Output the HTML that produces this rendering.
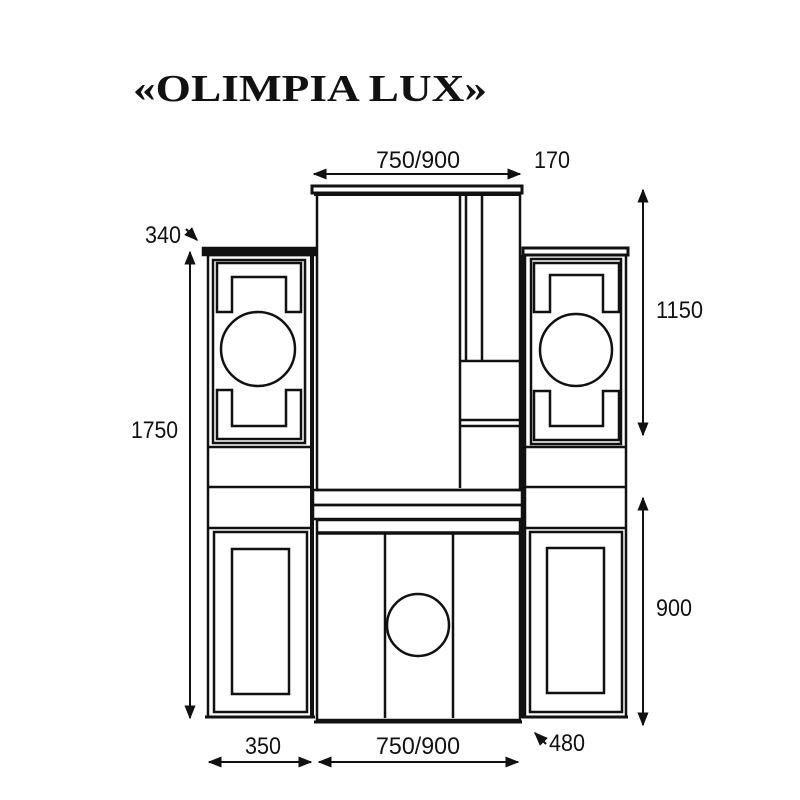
<!DOCTYPE html>
<html><head><meta charset="utf-8"><style>
html,body{margin:0;padding:0;background:#fff;}
svg{display:block}
text{font-family:"Liberation Sans",sans-serif;fill:#111}
</style></head><body>
<svg width="800" height="800" viewBox="0 0 800 800" xmlns="http://www.w3.org/2000/svg">
<defs>
<marker id="a" viewBox="0 0 10 10" refX="9" refY="5" markerWidth="7" markerHeight="7" orient="auto-start-reverse"><path d="M0,1 L10,5 L0,9 Z" fill="#111"/></marker>
</defs>
<text x="133" y="101" font-family="Liberation Serif" font-weight="bold" font-size="38" textLength="354" lengthAdjust="spacingAndGlyphs" style="font-family:'Liberation Serif',serif">«OLIMPIA LUX»</text>

<g stroke="#111" fill="none" stroke-width="2.5">
<!-- center top -->
<rect x="312" y="186" width="210" height="7" fill="#fff" stroke-width="3"/>
<line x1="314" y1="194" x2="520" y2="194" stroke-width="4"/>
<rect x="317" y="194" width="203" height="296"/>
<line x1="460" y1="196" x2="460" y2="488"/>
<line x1="466" y1="196" x2="466" y2="360"/>
<line x1="482" y1="196" x2="482" y2="360"/>
<line x1="460" y1="361" x2="519" y2="361"/>
<line x1="460" y1="420" x2="519" y2="420"/>
<line x1="460" y1="426" x2="519" y2="426"/>
<!-- counter -->
<rect x="313" y="490" width="209" height="15"/>
<rect x="313" y="505" width="209" height="14"/>
<rect x="317" y="520" width="203" height="200"/>
<line x1="318" y1="533" x2="520" y2="533" stroke-width="3.5"/>
<line x1="385" y1="533" x2="385" y2="718"/>
<line x1="453" y1="533" x2="453" y2="718"/>
<line x1="314" y1="722" x2="522" y2="722" stroke-width="3"/>
<circle cx="418" cy="625" r="31"/>

<!-- left tower -->
<rect x="203" y="248" width="112" height="7" fill="#111"/>
<rect x="208" y="255" width="104" height="462"/>
<line x1="312" y1="255" x2="312" y2="718" stroke-width="4"/>
<rect x="213" y="260" width="92" height="183"/>
<path d="M217,263 H301 V312 H286 V277 H232 V312 H217 Z"/>
<path d="M217,390 H232 V426 H286 V390 H301 V439 H217 Z"/>
<circle cx="258" cy="349" r="37"/>
<line x1="209" y1="447" x2="311" y2="447"/>
<line x1="209" y1="487" x2="311" y2="487"/>
<line x1="209" y1="528" x2="311" y2="528"/>
<rect x="214" y="532" width="93" height="180"/>
<rect x="232" y="549" width="57" height="145"/>
<line x1="205" y1="717" x2="315" y2="717" stroke-width="3"/>

<!-- right tower -->
<rect x="523" y="248" width="105" height="7" fill="#fff" stroke-width="3"/>
<rect x="525" y="255" width="101" height="462"/>
<line x1="523" y1="255" x2="523" y2="718" stroke-width="4"/>
<rect x="531" y="259" width="90" height="185"/>
<path d="M534,263 H619 V312 H603 V275 H550 V312 H534 Z"/>
<path d="M534,391 H550 V426 H603 V391 H619 V440 H534 Z"/>
<circle cx="576" cy="350" r="36"/>
<line x1="526" y1="447" x2="625" y2="447"/>
<line x1="526" y1="487" x2="625" y2="487"/>
<line x1="526" y1="528" x2="625" y2="528"/>
<rect x="530" y="532" width="92" height="180"/>
<rect x="547" y="548" width="57" height="145"/>
<line x1="522" y1="717" x2="628" y2="717" stroke-width="3"/>
</g>

<g stroke="#111" stroke-width="2" fill="none">
<line x1="314" y1="174" x2="520" y2="174" marker-start="url(#a)" marker-end="url(#a)"/>
<line x1="190" y1="252" x2="190" y2="718" marker-start="url(#a)" marker-end="url(#a)"/>
<line x1="643" y1="190" x2="643" y2="435" marker-start="url(#a)" marker-end="url(#a)"/>
<line x1="643" y1="498" x2="643" y2="725" marker-start="url(#a)" marker-end="url(#a)"/>
<line x1="209" y1="762" x2="311" y2="762" marker-start="url(#a)" marker-end="url(#a)"/>
<line x1="319" y1="762" x2="518" y2="762" marker-start="url(#a)" marker-end="url(#a)"/>
<line x1="186" y1="229" x2="197" y2="240" marker-end="url(#a)"/>
<line x1="546" y1="744" x2="535" y2="733" marker-end="url(#a)"/>
</g>

<g font-size="24">
<text x="376" y="168" textLength="84" lengthAdjust="spacingAndGlyphs">750/900</text>
<text x="534" y="168" textLength="36" lengthAdjust="spacingAndGlyphs">170</text>
<text x="145" y="243" textLength="36" lengthAdjust="spacingAndGlyphs">340</text>
<text x="131" y="438" textLength="47" lengthAdjust="spacingAndGlyphs">1750</text>
<text x="656" y="318" textLength="47" lengthAdjust="spacingAndGlyphs">1150</text>
<text x="656" y="616" textLength="36" lengthAdjust="spacingAndGlyphs">900</text>
<text x="245" y="754" textLength="36" lengthAdjust="spacingAndGlyphs">350</text>
<text x="376" y="754" textLength="84" lengthAdjust="spacingAndGlyphs">750/900</text>
<text x="549" y="751" textLength="36" lengthAdjust="spacingAndGlyphs">480</text>
</g>
</svg>
</body></html>
